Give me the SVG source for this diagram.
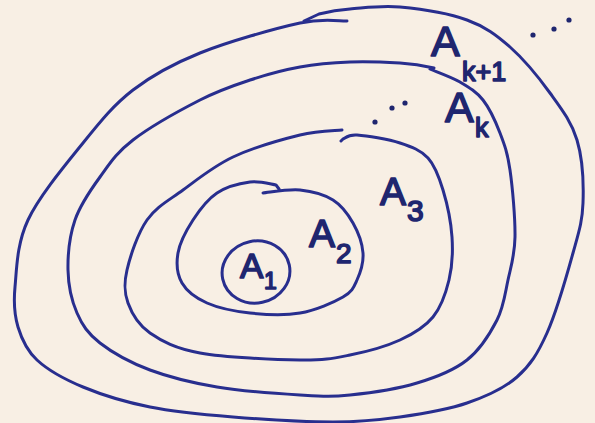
<svg xmlns="http://www.w3.org/2000/svg" width="595" height="423" viewBox="0 0 595 423">
<style>
.c{fill:none;stroke:#282e8e;stroke-width:3;stroke-linecap:round;stroke-linejoin:round}
.l{font-family:"Liberation Sans","DejaVu Sans",sans-serif;fill:#1f266f;stroke:#1f266f;stroke-width:1.6;stroke-linejoin:round}
.d{fill:#1f266f}
</style>
<rect width="595" height="423" fill="#f8efe4"/>
<g id="set-k1">
<path class="c" d="M304,21 L319,14 C323,13 336,10 350,9 C364,8 380.5,5.2 400,7 C419.5,8.8 448.7,13.3 467,20 C485.3,26.7 496.2,34.8 510,47 C523.8,59.2 538.8,77.5 550,93 C561.2,108.5 571.5,121.7 577,140 C582.5,158.3 583.7,184.2 583,203 C582.3,221.8 579,231.3 573,253 C567,274.7 556.3,312.3 547,333 C537.7,353.7 530.3,365.3 517,377 C503.7,388.7 486.5,396.3 467,403 C447.5,409.7 422.3,413.8 400,417 C377.7,420.2 360.8,422 333,422 C305.2,422 263.5,419.5 233,417 C202.5,414.5 175,412 150,407 C125,402 101.8,394.8 83,387 C64.2,379.2 47.8,370 37,360 C26.2,350 21.7,339.2 18,327 C14.3,314.8 13.3,304.8 15,287 C16.7,269.2 16.7,244 28,220 C39.3,196 65.5,164.7 83,143 C100.5,121.3 113.5,105 133,90 C152.5,75 172.2,64.2 200,53 C227.8,41.8 275.5,28.3 300,23 C324.5,17.7 339.2,21.3 347,21"/>
<text class="l" x="431" y="56" font-size="43">A</text>
<text class="l" x="462" y="81" font-size="27">k+1</text>
</g>
<g id="set-k">
<path class="c" d="M430,69 C435,71.2 451.2,76.8 460,82 C468.8,87.2 476.3,91.5 483,100 C489.7,108.5 495.5,121.3 500,133 C504.5,144.7 507.5,152.7 510,170 C512.5,187.3 515.3,218.7 515,237 C514.7,255.3 511,266.2 508,280 C505,293.8 503.8,306.7 497,320 C490.2,333.3 480.3,349.5 467,360 C453.7,370.5 436.5,377.2 417,383 C397.5,388.8 369.5,393 350,395 C330.5,397 322.2,396.3 300,395 C277.8,393.7 242,391.2 217,387 C192,382.8 169.5,377.3 150,370 C130.5,362.7 112.2,352.5 100,343 C87.8,333.5 82.3,325.2 77,313 C71.7,300.8 68.3,285.5 68,270 C67.7,254.5 69.7,235.5 75,220 C80.3,204.5 90.3,190.3 100,177 C109.7,163.7 116.3,152.8 133,140 C149.7,127.2 180.5,110 200,100 C219.5,90 233.3,85.5 250,80 C266.7,74.5 283.3,70 300,67 C316.7,64 333.3,62.7 350,62 C366.7,61.3 386.3,62.2 400,63 C413.7,63.8 426.7,66.3 434,68"/>
<text class="l" x="445" y="122" font-size="43">A</text>
<text class="l" x="475" y="137" font-size="27">k</text>
</g>
<g id="set-3">
<path class="c" d="M341,141 L343,139 C345.3,138.3 347.5,134.3 357,135 C366.5,135.7 388.2,139.2 400,143 C411.8,146.8 420.8,150.2 428,158 C435.2,165.8 439,176.8 443,190 C447,203.2 451,222 452,237 C453,252 452.2,266.7 449,280 C445.8,293.3 441.2,307 433,317 C424.8,327 413.8,333.7 400,340 C386.2,346.3 366.7,351.7 350,355 C333.3,358.3 325,360.3 300,360 C275,359.7 225,357.5 200,353 C175,348.5 162,341.3 150,333 C138,324.7 131.8,313.5 128,303 C124.2,292.5 123.8,283.8 127,270 C130.2,256.2 137.7,233.3 147,220 C156.3,206.7 168.7,200.5 183,190 C197.3,179.5 213.5,166.2 233,157 C252.5,147.8 281.8,139.5 300,135 C318.2,130.5 335,130.8 342,130"/>
<text class="l" x="380" y="205" font-size="39">A</text>
<text class="l" x="407" y="221" font-size="30">3</text>
</g>
<g id="set-2">
<path class="c" d="M263,193 C269.2,192.5 288.3,188.8 300,190 C311.7,191.2 324.2,194.5 333,200 C341.8,205.5 348,214.2 353,223 C358,231.8 362.3,243.5 363,253 C363.7,262.5 360.3,272.7 357,280 C353.7,287.3 352.5,291.5 343,297 C333.5,302.5 315.5,310.3 300,313 C284.5,315.7 265.5,314.7 250,313 C234.5,311.3 218.3,308 207,303 C195.7,298 186.8,291.3 182,283 C177.2,274.7 176.2,263.5 178,253 C179.8,242.5 186.5,230 193,220 C199.5,210 207.5,199.3 217,193 C226.5,186.7 240.2,183.3 250,182 C259.8,180.7 271.7,184.5 276,185 L279,189"/>
<text class="l" x="309" y="247" font-size="39">A</text>
<text class="l" x="336" y="263" font-size="28">2</text>
</g>
<g id="set-1">
<ellipse class="c" cx="256" cy="272" rx="34" ry="31" transform="rotate(-12 256 272)"/>
<text class="l" x="240" y="278" font-size="35">A</text>
<text class="l" x="264" y="289" font-size="23">1</text>
</g>
<g id="dots">
<circle class="d" cx="375" cy="122" r="2.6"/>
<circle class="d" cx="392" cy="108" r="2.6"/>
<circle class="d" cx="405" cy="103" r="2.6"/>
<circle class="d" cx="533" cy="35" r="2.6"/>
<circle class="d" cx="554" cy="29" r="2.6"/>
<circle class="d" cx="569" cy="20" r="2.6"/>
</g>
</svg>
